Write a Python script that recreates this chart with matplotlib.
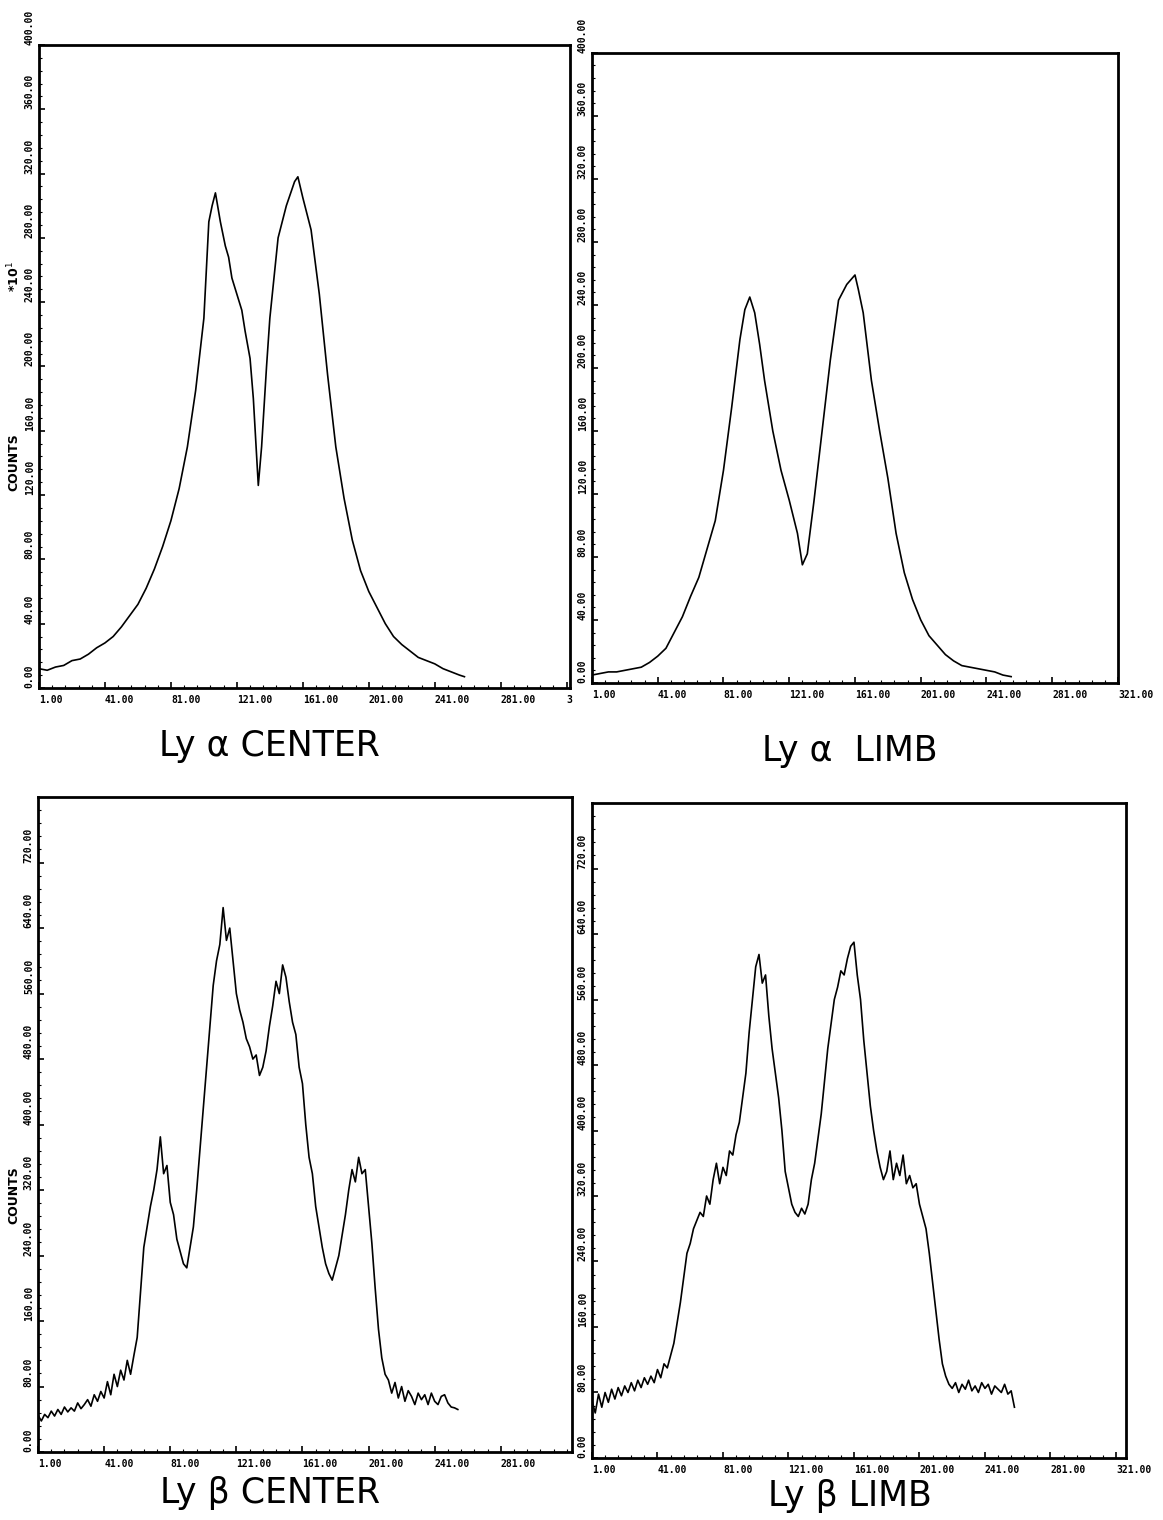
import matplotlib.pyplot as plt
import numpy as np

# channel numbers and counts
lya_center_x = [1, 6, 11, 16, 21, 26, 31, 36, 41, 46, 51, 56, 61, 66, 71, 76, 81, 86, 91, 96,
                101, 104, 106, 108, 111, 114, 116, 118, 121, 124, 126, 129, 131, 134, 136, 139, 141,
                146, 151, 156, 158, 161, 166, 171, 176, 181, 186, 191, 196, 201, 206, 211,
                216, 221, 226, 231, 236, 241, 246, 251, 256, 259]
lya_center_y = [12, 11, 13, 14, 17, 18, 21, 25, 28, 32, 38, 45, 52, 62, 74, 88, 104, 124, 150, 185,
                230, 290, 300, 308, 290, 275, 268, 255, 245, 235, 222, 205, 180, 126, 150, 200, 230,
                280, 300, 315, 318, 305, 285, 245, 195, 150, 118, 92, 73, 60, 50, 40,
                32, 27, 23, 19, 17, 15, 12, 10, 8, 7]

lya_limb_x = [1, 6, 11, 16, 21, 26, 31, 36, 41, 46, 51, 56, 61, 66, 71, 76, 81, 86, 91, 94, 97,
              100, 103, 106, 111, 116, 121, 126, 129, 132, 136, 141, 146, 151, 156, 161, 163,
              166, 171, 176, 181, 186, 191, 196, 201, 206, 211, 216, 221, 226, 231, 236,
              241, 246, 251, 256]
lya_limb_y = [5, 6, 7, 7, 8, 9, 10, 13, 17, 22, 32, 42, 55, 67, 85, 103, 135, 175, 218, 237, 245,
              235, 215, 192, 160, 135, 116, 95, 75, 82, 115, 160, 205, 243, 253, 259, 250,
              235, 192, 160, 130, 95, 70, 53, 40, 30, 24, 18, 14, 11, 10, 9,
              8, 7, 5, 4]

lyb_center_x = list(range(1, 256, 2))
lyb_center_y = [45, 38, 46, 42, 50, 44, 52, 46, 55, 49,
                54, 50, 60, 53, 58, 64, 56, 70, 62, 74,
                66, 86, 70, 95, 80, 100, 88, 112, 95, 118,
                140, 195, 250, 275, 300, 320, 345, 385, 340, 350,
                305, 290, 260, 245, 230, 225, 250, 275, 320, 370,
                420, 470, 520, 570, 600, 620, 665, 625, 640, 600,
                560, 540, 525, 505, 495, 480, 485, 460, 470, 490,
                520, 545, 575, 560, 595, 580, 550, 525, 510, 470,
                450, 400, 360, 340, 300, 275, 250, 230, 218, 210,
                225, 240, 265, 290, 320, 345, 330, 360, 340, 345,
                300, 255, 200, 150, 115, 95, 88, 72, 85, 66,
                80, 62, 75, 68, 58, 72, 64, 70, 58, 72,
                62, 58, 68, 70, 60, 55, 54, 52]

lyb_limb_x = list(range(1, 260, 2))
lyb_limb_y = [70, 55, 78, 62, 80, 68, 84, 72, 86, 76,
              88, 80, 92, 82, 95, 86, 98, 90, 100, 92,
              108, 98, 115, 110, 125, 140, 165, 190, 220, 250,
              262, 280, 290, 300, 295, 320, 310, 340, 360, 335,
              355, 345, 375, 370, 395, 410, 440, 470, 520, 560,
              600, 615, 580, 590, 540, 500, 470, 440, 400, 350,
              330, 310, 300, 295, 305, 298, 310, 340, 360, 390,
              420, 460, 500, 530, 560, 575, 595, 590, 610, 625,
              630, 590, 560, 510, 470, 430, 400, 375, 355, 340,
              350, 375, 340, 360, 345, 370, 335, 345, 330, 335,
              310, 295, 280, 250, 215, 180, 145, 115, 100, 90,
              85, 92, 80, 90, 84, 95, 82, 88, 80, 92,
              85, 90, 78, 88, 84, 80, 90, 78, 82, 62]

top_yticks = list(range(0, 401, 40))
bot_yticks = list(range(0, 721, 80))
xticks = list(range(1, 322, 40))

fig = plt.figure(figsize=(11.63, 15.2), dpi=100)

panels = [
    # rect, x, y, ylim, yticks, xlim, shown x ticks, title, title pos
    ([0.0335, 0.5474, 0.4566, 0.4230], lya_center_x, lya_center_y, 400, top_yticks, 323, xticks,
     "Ly α CENTER", (0.232, 0.509)),
    ([0.5090, 0.5507, 0.4523, 0.4145], lya_limb_x, lya_limb_y, 400, top_yticks, 321, xticks,
     "Ly α  LIMB", (0.731, 0.506)),
    ([0.0327, 0.0447, 0.4590, 0.4309], lyb_center_x, lyb_center_y, 800, bot_yticks, 324, xticks[:-1],
     "Ly β CENTER", (0.232, 0.018)),
    ([0.5090, 0.0408, 0.4590, 0.4309], lyb_limb_x, lyb_limb_y, 800, bot_yticks, 327, xticks,
     "Ly β LIMB", (0.731, 0.016)),
]

for i, (rect, xs, ys, ymax, yt, xmax, xt, title, tpos) in enumerate(panels):
    ax = fig.add_axes(rect)
    ax.plot(xs, ys, color='black', lw=1.2)
    ax.set_xlim(1, xmax)
    ax.set_ylim(0, ymax)
    for s in ax.spines.values():
        s.set_linewidth(2)
    ax.set_xticks(xt)
    xl = ['%d.00' % v for v in xt]
    if i == 0:
        xl[-1] = '3'
    ax.set_xticklabels(xl, ha='left', fontsize=7, fontweight='bold', family='DejaVu Sans Mono')
    ax.set_yticks(yt)
    ax.set_yticklabels(['%d.00' % v for v in yt], rotation=90, va='bottom',
                       fontsize=7, fontweight='bold', family='DejaVu Sans Mono')
    ax.set_xticks(np.arange(1, xmax, 8), minor=True)
    ax.set_yticks(np.arange(0, ymax, ymax / 50), minor=True)
    ax.tick_params(which='major', direction='in', length=4, width=1.2, pad=3)
    ax.tick_params(which='minor', direction='in', length=2, width=0.8)
    ax.tick_params(axis='x', pad=5)
    fig.text(tpos[0], tpos[1], title, ha='center', va='center', fontsize=25)

fig.text(0.012, 0.696, "COUNTS", rotation=90, ha='center', va='center', fontsize=9, fontweight='bold')
fig.text(0.012, 0.818, "*10$^1$", rotation=90, ha='center', va='center', fontsize=9, fontweight='bold')
fig.text(0.012, 0.214, "COUNTS", rotation=90, ha='center', va='center', fontsize=9, fontweight='bold')

fig.savefig('out.png', dpi=100)
